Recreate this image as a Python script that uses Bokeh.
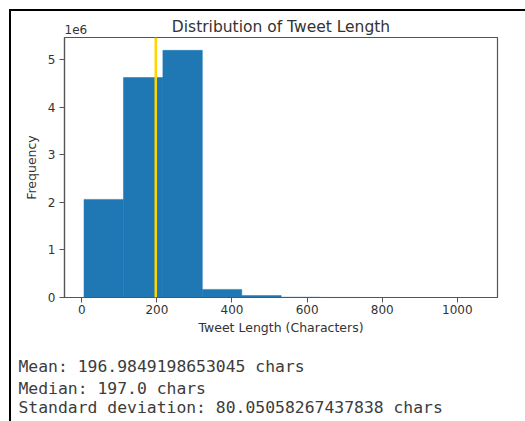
from bokeh.plotting import figure
from bokeh.models import Label, Span, FixedTicker
from bokeh.embed import file_html
from bokeh.resources import INLINE

# ---- data ----
bin_edges = [6, 111, 216, 321, 426, 531, 636, 741, 846, 951, 1056]
bin_counts = [2060000, 4620000, 5190000, 170000, 40000, 6000, 1500, 500, 200, 100]
x_ticks = [0, 200, 400, 600, 800, 1000]
y_ticks = [0, 1000000, 2000000, 3000000, 4000000, 5000000]
y_tick_labels = ["0", "1", "2", "3", "4", "5"]
y_offset_text = "1e6"
mean_value = "196.9849198653045"
median_value = 197.0
std_value = "80.05058267437838"
title_text = "Distribution of Tweet Length"
x_label = "Tweet Length (Characters)"
y_label = "Frequency"

FONT = "DejaVu Sans"
MONO = "DejaVu Sans Mono"
AXC = "#555555"
TXT = "#333333"

p = figure(width=525, height=421, output_backend="svg", toolbar_location=None,
           x_range=(-46, 1107), y_range=(0, 5460000),
           min_border_left=64, min_border_top=37, min_border_right=28, min_border_bottom=124)
p.background_fill_color = "white"
p.border_fill_color = "white"
# top and left edges of the surrounding notebook-cell frame, drawn over the canvas
p.stylesheets = [
    ":host { position: relative; }"
    ":host::before { content: ''; position: absolute; left: 9px; top: 9px; width: 516px;"
    " height: 2px; background: #000; z-index: 10; pointer-events: none; }"
    ":host::after { content: ''; position: absolute; left: 9px; top: 9px; width: 2px;"
    " height: 412px; background: #000; z-index: 10; pointer-events: none; }"
]
p.outline_line_color = AXC
p.outline_line_width = 1.2
p.grid.visible = False

p.title.text = title_text
p.title.align = "center"
p.title.text_font = FONT
p.title.text_font_size = "15.5px"
p.title.text_font_style = "normal"
p.title.text_color = TXT
p.title.standoff = 4

p.quad(left=bin_edges[:-1], right=bin_edges[1:], bottom=0, top=bin_counts,
       fill_color="#1f77b4", line_color="#1f77b4", line_width=0.5)

p.add_layout(Span(location=median_value, dimension="height", line_color="gold", line_width=2.5))

for ax in (p.xaxis[0], p.yaxis[0]):
    ax.axis_line_color = AXC
    ax.axis_line_width = 1.2
    ax.major_tick_line_color = AXC
    ax.major_tick_out = 5
    ax.major_tick_in = 0
    ax.minor_tick_line_color = None
    ax.major_label_text_font = FONT
    ax.major_label_text_font_size = "12px"
    ax.major_label_text_color = TXT
    ax.axis_label_text_font = FONT
    ax.axis_label_text_font_size = "12.5px"
    ax.axis_label_text_font_style = "normal"
    ax.axis_label_text_color = TXT

p.xaxis[0].ticker = FixedTicker(ticks=x_ticks)
p.xaxis[0].major_label_standoff = 2
p.xaxis[0].axis_label = x_label
p.xaxis[0].axis_label_standoff = 3

p.yaxis[0].ticker = FixedTicker(ticks=y_ticks)
p.yaxis[0].major_label_overrides = {t: s for t, s in zip(y_ticks, y_tick_labels)}
p.yaxis[0].major_label_standoff = 4
p.yaxis[0].axis_label = y_label
p.yaxis[0].axis_label_standoff = 6

# Texts outside the frame live in the bottom side panel; each label gets its own
# stacked sub-panel, y is measured upward from that sub-panel's bottom edge.
def side_label(text, cx, y_rel, font, size, color):
    p.add_layout(Label(x=cx - 64, y=y_rel, x_units="screen", y_units="screen", text=text,
                       text_align="left", text_baseline="middle",
                       text_font=font, text_font_size=size, text_color=color), "below")

side_label(y_offset_text, 64, 347 - 30, FONT, "12px", TXT)

lines = [f"Mean: {mean_value} chars",
         f"Median: {median_value} chars",
         f"Standard deviation: {std_value} chars"]
for t, y_rel in zip(lines, [365 - 366, 383 - 387, 401 - 405]):
    side_label(t, 18, y_rel, MONO, "16.4px", "#3c3c3c")

open("out.html", "w").write(file_html(p, INLINE))
